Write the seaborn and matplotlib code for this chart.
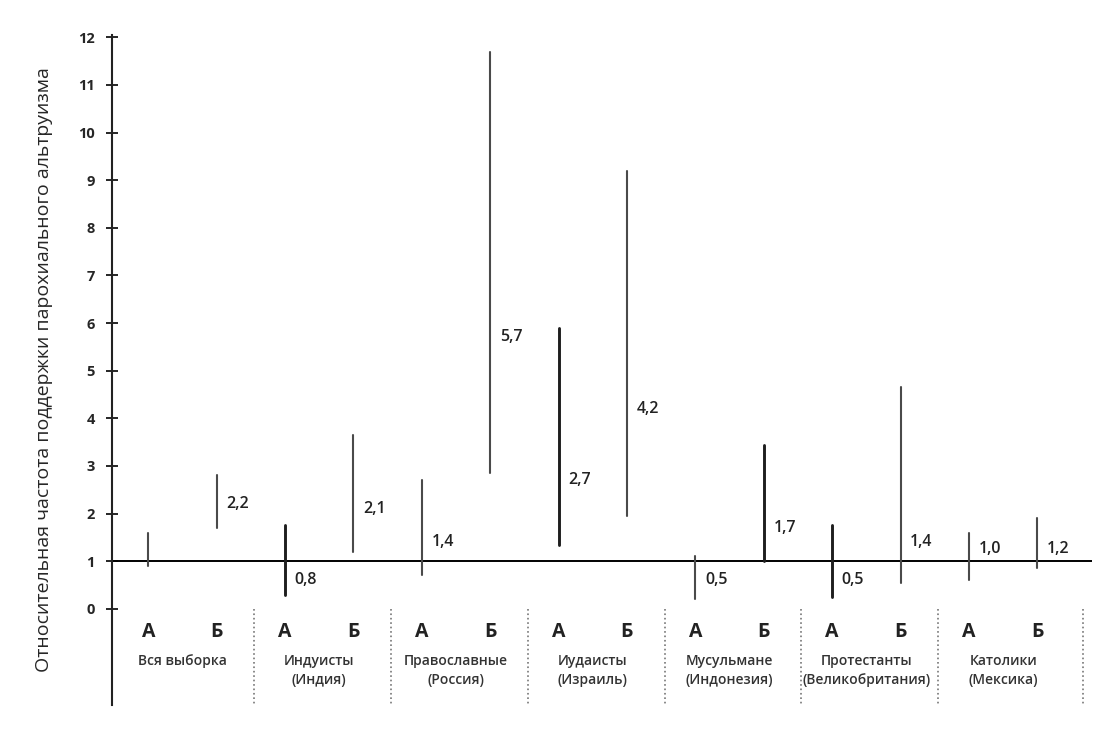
import numpy as np
import pandas as pd
import seaborn as sns
import matplotlib.pyplot as plt

sns.set_style('ticks')
plt.rcParams['font.family'] = ['Open Sans', 'DejaVu Sans']

#%% data
groups = ['Вся выборка', 'Индуисты\n(Индия)', 'Православные\n(Россия)', 'Иудаисты\n(Израиль)',
          'Мусульмане\n(Индонезия)', 'Протестанты\n(Великобритания)', 'Католики\n(Мексика)']
subsets = ['А', 'Б']
estimate = [np.nan, 2.2, 0.8, 2.1, 1.4, 5.7, 2.7, 4.2, 0.5, 1.7, 0.5, 1.4, 1.0, 1.2]
ci_low = [0.9, 1.7, 0.3, 1.2, 0.7, 2.85, 1.35, 1.95, 0.2, 1.0, 0.25, 0.55, 0.6, 0.85]
ci_high = [1.6, 2.8, 1.75, 3.65, 2.7, 11.7, 5.9, 9.2, 1.1, 3.45, 1.75, 4.65, 1.6, 1.9]
bold = [False, False, True, False, False, False, True, False, False, True, True, False, False, False]

df = pd.DataFrame({'group': np.repeat(groups, 2), 'subset': subsets * len(groups),
                   'est': estimate, 'lo': ci_low, 'hi': ci_high, 'bold': bold})
df['pos'] = np.arange(len(df))
long = df.melt(id_vars=['pos', 'bold'], value_vars=['lo', 'hi'], value_name='val')

#%% plot
fig = plt.figure(figsize=(11.09, 7.47), dpi=100)
ax = fig.add_axes([0.101, 0.0562, 0.8837, 0.897])

ax.axhline(1, color='k', lw=1.4, zorder=1)
sns.lineplot(data=long, x='pos', y='val', units='pos', estimator=None, sort=False,
             hue='bold', palette={True: '#1e1e1e', False: '#4a4a4a'},
             size='bold', sizes={True: 2.1, False: 1.5},
             legend=False, ax=ax, zorder=2)

# point estimates next to each interval
for _, r in df.dropna(subset=['est']).iterrows():
    ypos = 0.6 if r['est'] < 1 else max(r['est'], 1.25)
    ax.text(r['pos'] + 0.14, ypos, ('%.1f' % r['est']).replace('.', ','),
            ha='left', va='center', fontsize=11.5, fontweight='semibold', color='#222222')

# А / Б and group names below the axis
for _, r in df.iterrows():
    ax.text(r['pos'], -0.48, r['subset'], ha='center', va='center',
            fontsize=14, fontweight='bold', color='#222222')
for gidx, g in enumerate(groups):
    ax.text(2 * gidx + 0.5, -0.95, g, ha='center', va='top', fontsize=10,
            fontweight='semibold', color='#333333', linespacing=1.45)
    sep = 2 * gidx + 1.55 if gidx < len(groups) - 1 else 13.67
    ax.plot([sep, sep], [0.0, -2.0], ls=':', lw=1.2, color='#777777')

ax.set(xlim=[-0.53, 13.8], ylim=[-2.02, 12.05], xticks=[], yticks=np.arange(0, 13),
       xlabel='', ylabel='Относительная частота поддержки парохиального альтруизма')
ax.yaxis.label.set_size(14)
ax.yaxis.labelpad = 18
ax.tick_params(axis='y', direction='inout', length=9, width=1.4, labelsize=10.5, pad=8)
for t in ax.get_yticklabels():
    t.set_fontweight('bold')
sns.despine(ax=ax, bottom=True)
ax.spines['left'].set_linewidth(1.5)
ax.spines['left'].set_color('#222222')

fig.savefig('out.png', dpi=100, facecolor='white')
